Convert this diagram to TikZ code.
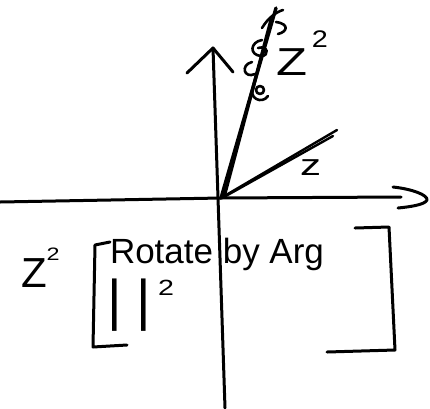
\documentclass[tikz,border=0pt]{standalone}
\usepackage{fontspec}
\setmainfont{Liberation Sans}
\begin{document}
\begin{tikzpicture}[x=1pt,y=-1pt,
  ink/.style={line width=3pt,line cap=round,line join=round},
  thin ink/.style={line width=2.6pt,line cap=round,line join=round},
  lbl/.style={inner sep=0pt,outer sep=0pt}]
\useasboundingbox (0,0) rectangle (430,408);
% axes
\coordinate (O) at (221,198);
\coordinate (xl) at (0,202);
\coordinate (xr) at (401,197);
\coordinate (yb) at (225,408);
\coordinate (yt) at (213,48);
\coordinate (al) at (187,73);
\coordinate (ar) at (233,72);
\draw[ink] (xl) -- (O) -- (xr);
\draw[ink] (yb) -- (yt);
\draw[ink] (al) -- (yt) -- (ar);
\draw[ink] (393,187) .. controls (412,189) and (428,195) .. (427,200) .. controls (425,205) and (408,207) .. (398,208);
% z^2 vector
\coordinate (w) at (276,8);
\coordinate (O2) at (224,197);
\coordinate (w2) at (271,20);
\draw[ink,line width=3.4pt] (O) -- (w);
\draw[ink,line width=3.4pt] (O2) -- (w2);
% z vector
\coordinate (z1) at (337,130);
\coordinate (z2) at (333,136);
\draw[ink,line width=2.4pt] (O) -- (z1);
\draw[ink,line width=2.4pt] (O2) -- (z2);
% scribbles on z^2
\draw[thin ink] (262,28) .. controls (268,18) and (276,12) .. (283,10);
\draw[thin ink] (276,22) .. controls (290,24) and (287,32) .. (278,34);
\draw[thin ink] (262,40) .. controls (250,42) and (249,55) .. (261,56) .. controls (270,56) and (268,45) .. (258,48);
\draw[thin ink] (252,62) .. controls (240,65) and (244,79) .. (255,74);
\draw[thin ink] (260,90) circle (4);
\draw[thin ink] (254,86) .. controls (247,98) and (262,105) .. (268,96);
% labels
\node[lbl,anchor=base west,font=\fontsize{39}{39}\selectfont] (zsqtop) at (276,75)
  {\scalebox{1.3}[1]{Z}\hspace{5pt}\raisebox{28pt}{\fontsize{24}{24}\selectfont\scalebox{1.2}[1]{2}}};
\node[lbl,anchor=base west,font=\fontsize{30}{30}\selectfont] (zlab) at (300,175) {\scalebox{1.4}[1]{z}};
\node[lbl,anchor=base west,font=\fontsize{42}{42}\selectfont] (zsqbot) at (21,287)
  {Z\raisebox{27pt}{\fontsize{18}{18}\selectfont\scalebox{1.3}[1]{2}}};
\node[lbl,anchor=base west,font=\fontsize{35}{35}\selectfont] (rot) at (110,263) {Rotate by Arg};
\node[lbl,anchor=base west,font=\fontsize{56}{56}\selectfont] (mod) at (107,319)
  {|\hspace{15pt}|\hspace{7pt}\raisebox{24pt}{\fontsize{22}{22}\selectfont\scalebox{1.3}[1]{2}}};
% brackets
\coordinate (lb1) at (110,242);
\coordinate (lb2) at (95,245);
\coordinate (lb3) at (93,347);
\coordinate (lb4) at (127,345);
\draw[ink] (lb1) -- (lb2) -- (lb3) -- (lb4);
\coordinate (rb1) at (355,228);
\coordinate (rb2) at (389,227);
\coordinate (rb3) at (395,350);
\coordinate (rb4) at (327,352);
\draw[ink] (rb1) -- (rb2) -- (rb3) -- (rb4);
\end{tikzpicture}
\end{document}
